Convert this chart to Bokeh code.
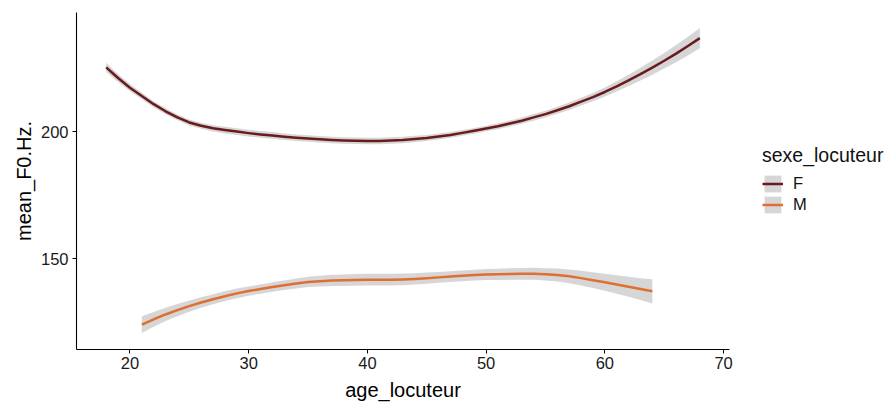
import numpy as np
from bokeh.plotting import figure
from bokeh.models import ColumnDataSource, Legend, LegendItem, Range1d, FixedTicker
from bokeh.embed import file_html
from bokeh.resources import INLINE

# Smoothed mean F0 by speaker age, with standard-error band
age_f = list(range(18, 69))
f0_f = [225.3, 221.1, 217.3, 214.0, 210.8, 208.0, 205.6, 203.6, 202.3, 201.3,
        200.6, 200.0, 199.4, 198.9, 198.5, 198.0, 197.6, 197.3, 197.0, 196.7,
        196.5, 196.4, 196.3, 196.3, 196.5, 196.7, 197.1, 197.5, 198.1, 198.7,
        199.5, 200.3, 201.2, 202.1, 203.2, 204.3, 205.6, 206.9, 208.4, 210.0,
        211.8, 213.6, 215.6, 217.8, 220.2, 222.6, 225.2, 227.9, 230.7, 233.7,
        236.8]
se_f = [1.8, 1.6, 1.4, 1.3, 1.2, 1.15, 1.1, 1.15, 1.2, 1.25,
        1.3, 1.3, 1.3, 1.3, 1.3, 1.3, 1.3, 1.3, 1.3, 1.3,
        1.3, 1.3, 1.3, 1.3, 1.3, 1.3, 1.25, 1.2, 1.2, 1.15,
        1.1, 1.1, 1.1, 1.15, 1.2, 1.25, 1.3, 1.35, 1.4, 1.45,
        1.5, 1.65, 1.8, 2.0, 2.2, 2.5, 2.8, 3.1, 3.4, 3.7,
        4.0]

age_m = list(range(21, 65))
f0_m = [124.0, 126.1, 128.0, 129.7, 131.3, 132.7, 134.0, 135.2, 136.3, 137.2,
        138.0, 138.8, 139.5, 140.2, 140.8, 141.1, 141.4, 141.5, 141.6, 141.7,
        141.7, 141.7, 141.8, 142.0, 142.3, 142.6, 142.9, 143.2, 143.5, 143.7,
        143.8, 143.9, 144.0, 144.0, 143.8, 143.5, 143.0, 142.3, 141.5, 140.7,
        139.8, 138.9, 138.0, 137.1]
se_m = [3.3, 2.9, 2.6, 2.4, 2.2, 2.1, 2.0, 1.95, 1.9, 1.85,
        1.8, 1.85, 1.9, 1.95, 2.0, 2.1, 2.2, 2.25, 2.3, 2.3,
        2.3, 2.3, 2.3, 2.25, 2.2, 2.15, 2.1, 2.1, 2.1, 2.15,
        2.2, 2.25, 2.3, 2.35, 2.4, 2.55, 2.7, 2.9, 3.1, 3.35,
        3.6, 3.95, 4.3, 4.8]

groups = ["F", "M"]
colors = ["#6A1A1C", "#DE6F30"]
x_ticks = [20, 30, 40, 50, 60, 70]
y_ticks = [150, 200]

FONT = "Liberation Sans"

p = figure(width=890, height=405, output_backend="svg", toolbar_location=None,
           x_range=Range1d(15.5, 70.5), y_range=Range1d(114.2, 246.9),
           min_border_left=76, min_border_right=0, min_border_top=12,
           min_border_bottom=56)
p.frame_width = 653
p.frame_height = 337

series = [(groups[0], age_f, f0_f, se_f, colors[0]),
          (groups[1], age_m, f0_m, se_m, colors[1])]
items = []
for name, ages, mean, se, col in series:
    mean_a = np.array(mean)
    se_a = np.array(se)
    src = ColumnDataSource(dict(x=ages, y=mean_a, lo=mean_a - se_a, hi=mean_a + se_a))
    band = p.varea(x="x", y1="lo", y2="hi", source=src,
                   fill_color="#999999", fill_alpha=0.4)
    ln = p.line(x="x", y="y", source=src, line_color=col, line_width=2.5,
                line_join="round")
    items.append(LegendItem(label=name, renderers=[band, ln]))

# legend in the right-hand side panel, offset from the plotting frame
legend = Legend(items=items, title="sexe_locuteur", location=(33, 134),
                border_line_color=None, background_fill_alpha=0,
                title_text_font=FONT, title_text_font_size="19.5px",
                title_text_font_style="normal",
                title_text_color="#111111", title_standoff=6,
                label_text_font=FONT, label_text_font_size="16.5px",
                label_text_color="#111111", glyph_width=21, glyph_height=21,
                spacing=0, padding=0, margin=0, label_standoff=10,
                label_height=21)
p.add_layout(legend, "right")

for ax in (p.xaxis, p.yaxis):
    ax.axis_line_color = "black"
    ax.axis_line_width = 1.1
    ax.major_tick_line_color = "black"
    ax.major_tick_out = 4
    ax.major_tick_in = 0
    ax.minor_tick_line_color = None
    ax.major_label_text_font = FONT
    ax.major_label_text_font_size = "16.5px"
    ax.major_label_text_color = "#1a1a1a"
    ax.axis_label_text_font = FONT
    ax.axis_label_text_font_size = "20px"
    ax.axis_label_text_font_style = "normal"
    ax.axis_label_text_color = "black"

p.xaxis.ticker = FixedTicker(ticks=x_ticks)
p.yaxis.ticker = FixedTicker(ticks=y_ticks)
p.xaxis.axis_label = "age_locuteur"
p.yaxis.axis_label = "mean_F0.Hz."
p.xaxis.major_label_standoff = 3
p.yaxis.major_label_standoff = 4
p.xaxis.axis_label_standoff = 7
p.yaxis.axis_label_standoff = 3

p.xgrid.grid_line_color = None
p.ygrid.grid_line_color = None
p.outline_line_color = None
p.background_fill_color = "white"
p.border_fill_color = "white"

open("out.html", "w").write(file_html(p, INLINE))
